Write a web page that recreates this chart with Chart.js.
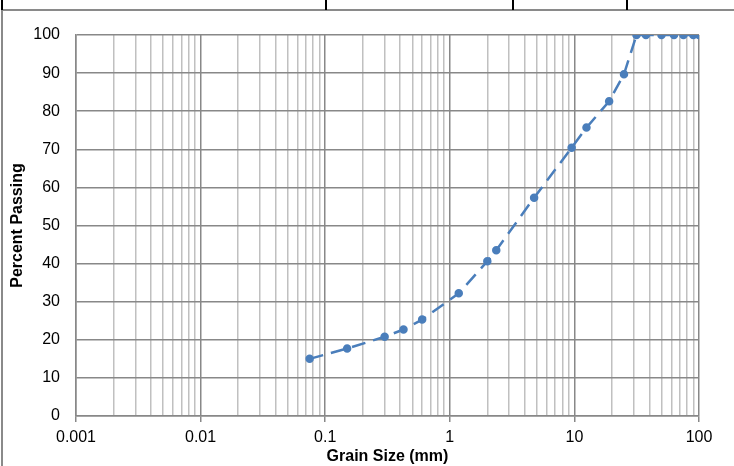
<!DOCTYPE html>
<html>
<head>
<meta charset="utf-8">
<script src="https://cdn.jsdelivr.net/npm/chart.js@4.4.1/dist/chart.umd.min.js"></script>
<style>
  body { margin: 0; background: #fff; }
  #wrap { position: relative; width: 734px; height: 466px; }
  #frame { position: absolute; left: 1px; top: 9px; right: 0; bottom: 0; border-top: 2px solid #8a8a8a; border-left: 2px solid #8a8a8a; }
  .mark { position: absolute; top: 0; width: 2px; height: 10px; background: #000; }
  canvas { position: absolute; left: 0; top: 0; }
</style>
</head>
<body>
<div id="wrap">
  <div id="frame"></div>
  <div class="mark" style="left:1px"></div>
  <div class="mark" style="left:325px"></div>
  <div class="mark" style="left:512px"></div>
  <div class="mark" style="left:626px"></div>
  <canvas id="myChart" width="734" height="466"></canvas>
</div>
<script>
// sieve data
const grainSize = [0.075, 0.15, 0.3, 0.425, 0.6, 1.18, 2, 2.36, 4.75, 9.5, 12.5, 19, 25, 31.5, 37.5, 50, 63, 75, 90, 100];
const percentPassing = [15.0, 17.7, 20.8, 22.7, 25.3, 32.2, 40.6, 43.5, 57.3, 70.4, 75.7, 82.6, 89.7, 100, 100, 100, 100, 100, 100, 100];
const decades = [0.001, 0.01, 0.1, 1, 10, 100];
const yTicks = [0, 10, 20, 30, 40, 50, 60, 70, 80, 90, 100];

const points = grainSize.map((g, i) => ({ x: g, y: percentPassing[i] }));

const isDecade = v => decades.some(d => Math.abs(v - d) / d < 1e-6);

const ctx = document.getElementById('myChart').getContext('2d');
const chart = new Chart(ctx, {
  type: 'line',
  data: {
    datasets: [{
      label: 'Percent Passing',
      data: points,
      borderColor: '#4a7ebb',
      backgroundColor: '#4a7ebb',
      borderWidth: 2.5,
      borderDash: [14, 8],
      pointRadius: 3,
      pointHoverRadius: 3,
      tension: 0
    }]
  },
  options: {
    responsive: false,
    animation: false,
    layout: { padding: { left: 0, right: 35, top: 35, bottom: 0 } },
    plugins: { legend: { display: false }, tooltip: { enabled: false } },
    scales: {
      x: {
        type: 'logarithmic',
        min: 0.001,
        max: 100,
        afterBuildTicks: axis => {
          const t = [];
          decades.forEach(d => {
            if (d === 100) { t.push({ value: d }); return; }
            for (let k = 1; k <= 9; k++) t.push({ value: d * k });
          });
          axis.ticks = t;
        },
        afterFit: s => { s.height = 50; },
        ticks: {
          autoSkip: false,
          maxRotation: 0,
          color: '#000',
          font: { family: 'Liberation Sans', size: 16 },
          padding: 6,
          callback: v => isDecade(v) ? String(+v.toPrecision(6)) : ''
        },
        grid: {
          color: c => isDecade(c.tick.value) ? '#888888' : '#c0c0c0',
          lineWidth: 1.5,
          tickColor: c => isDecade(c.tick.value) ? '#888888' : 'rgba(0,0,0,0)',
          tickLength: 6
        },
        border: { color: '#888888', width: 1.5 },
        title: {
          display: true,
          text: 'Grain Size (mm)',
          color: '#000',
          font: { family: 'Liberation Sans', size: 16, weight: 'bold' },
          padding: { top: 0, bottom: 0 }
        }
      },
      y: {
        min: 0,
        max: 100,
        afterBuildTicks: axis => { axis.ticks = yTicks.map(v => ({ value: v })); },
        afterFit: s => { s.width = 76; },
        ticks: {
          color: '#000',
          font: { family: 'Liberation Sans', size: 16 },
          padding: 16
        },
        grid: { color: '#888888', lineWidth: 1.5, drawTicks: false },
        border: { color: '#888888', width: 1.5 },
        title: {
          display: true,
          text: 'Percent Passing',
          color: '#000',
          font: { family: 'Liberation Sans', size: 16, weight: 'bold' },
          padding: { top: 8, bottom: 0 }
        }
      }
    }
  }
});
</script>
</body>
</html>
